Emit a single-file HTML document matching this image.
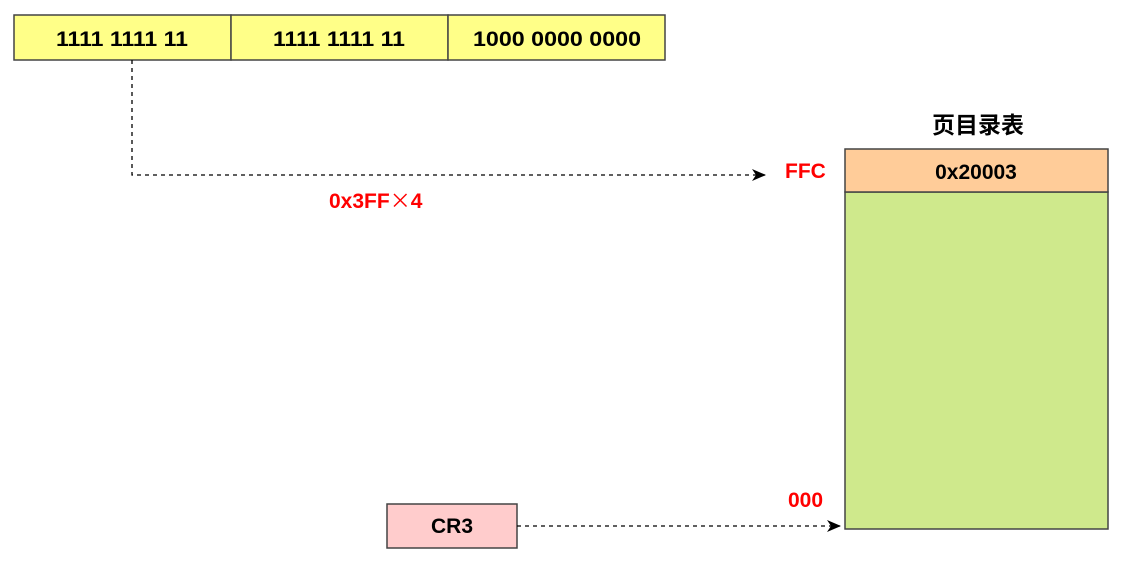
<!DOCTYPE html>
<html><head><meta charset="utf-8"><style>
body{margin:0;width:1130px;height:563px;background:#fff;overflow:hidden}
svg text{font-family:"Liberation Sans","Noto Sans CJK SC",sans-serif;font-weight:bold}
</style></head><body>
<svg width="1130" height="563" xmlns="http://www.w3.org/2000/svg">
<defs><marker id="a" markerWidth="14" markerHeight="12" refX="13" refY="6" orient="auto" markerUnits="userSpaceOnUse"><path d="M0,0 L14,6 L0,12 L4,6 Z" fill="#000"/></marker></defs>
<g stroke="#444" stroke-width="1.5">
<rect x="14" y="15" width="217" height="45" fill="#ffff88"/>
<rect x="231" y="15" width="217" height="45" fill="#ffff88"/>
<rect x="448" y="15" width="217" height="45" fill="#ffff88"/>
<rect x="845" y="192" width="263" height="337" fill="#cfe98c"/>
<rect x="845" y="149" width="263" height="43" fill="#ffcc99"/>
<rect x="387" y="504" width="130" height="44" fill="#ffcccc"/>
</g>
<g font-size="21" text-anchor="middle" fill="#000">
<text x="122" y="46" textLength="132" lengthAdjust="spacingAndGlyphs">1111 1111 11</text>
<text x="339" y="46" textLength="132" lengthAdjust="spacingAndGlyphs">1111 1111 11</text>
<text x="557" y="46" textLength="168" lengthAdjust="spacingAndGlyphs">1000 0000 0000</text>
<text x="976" y="179">0x20003</text>
<text x="452" y="533">CR3</text>
<text x="978" y="133" font-size="23">页目录表</text>
</g>
<g fill="#ff0000" font-size="21">
<text x="785" y="178">FFC</text>
<text x="788" y="507">000</text>
<text x="329" y="208">0x3FF<tspan font-family="Noto Sans CJK SC" font-weight="normal">×</tspan>4</text>
</g>
<g fill="none" stroke="#000" stroke-width="1.3" stroke-dasharray="4,4">
<path d="M132,60 V175 H765" marker-end="url(#a)"/>
<path d="M517,526 H840" marker-end="url(#a)"/>
</g>
</svg>
</body></html>
